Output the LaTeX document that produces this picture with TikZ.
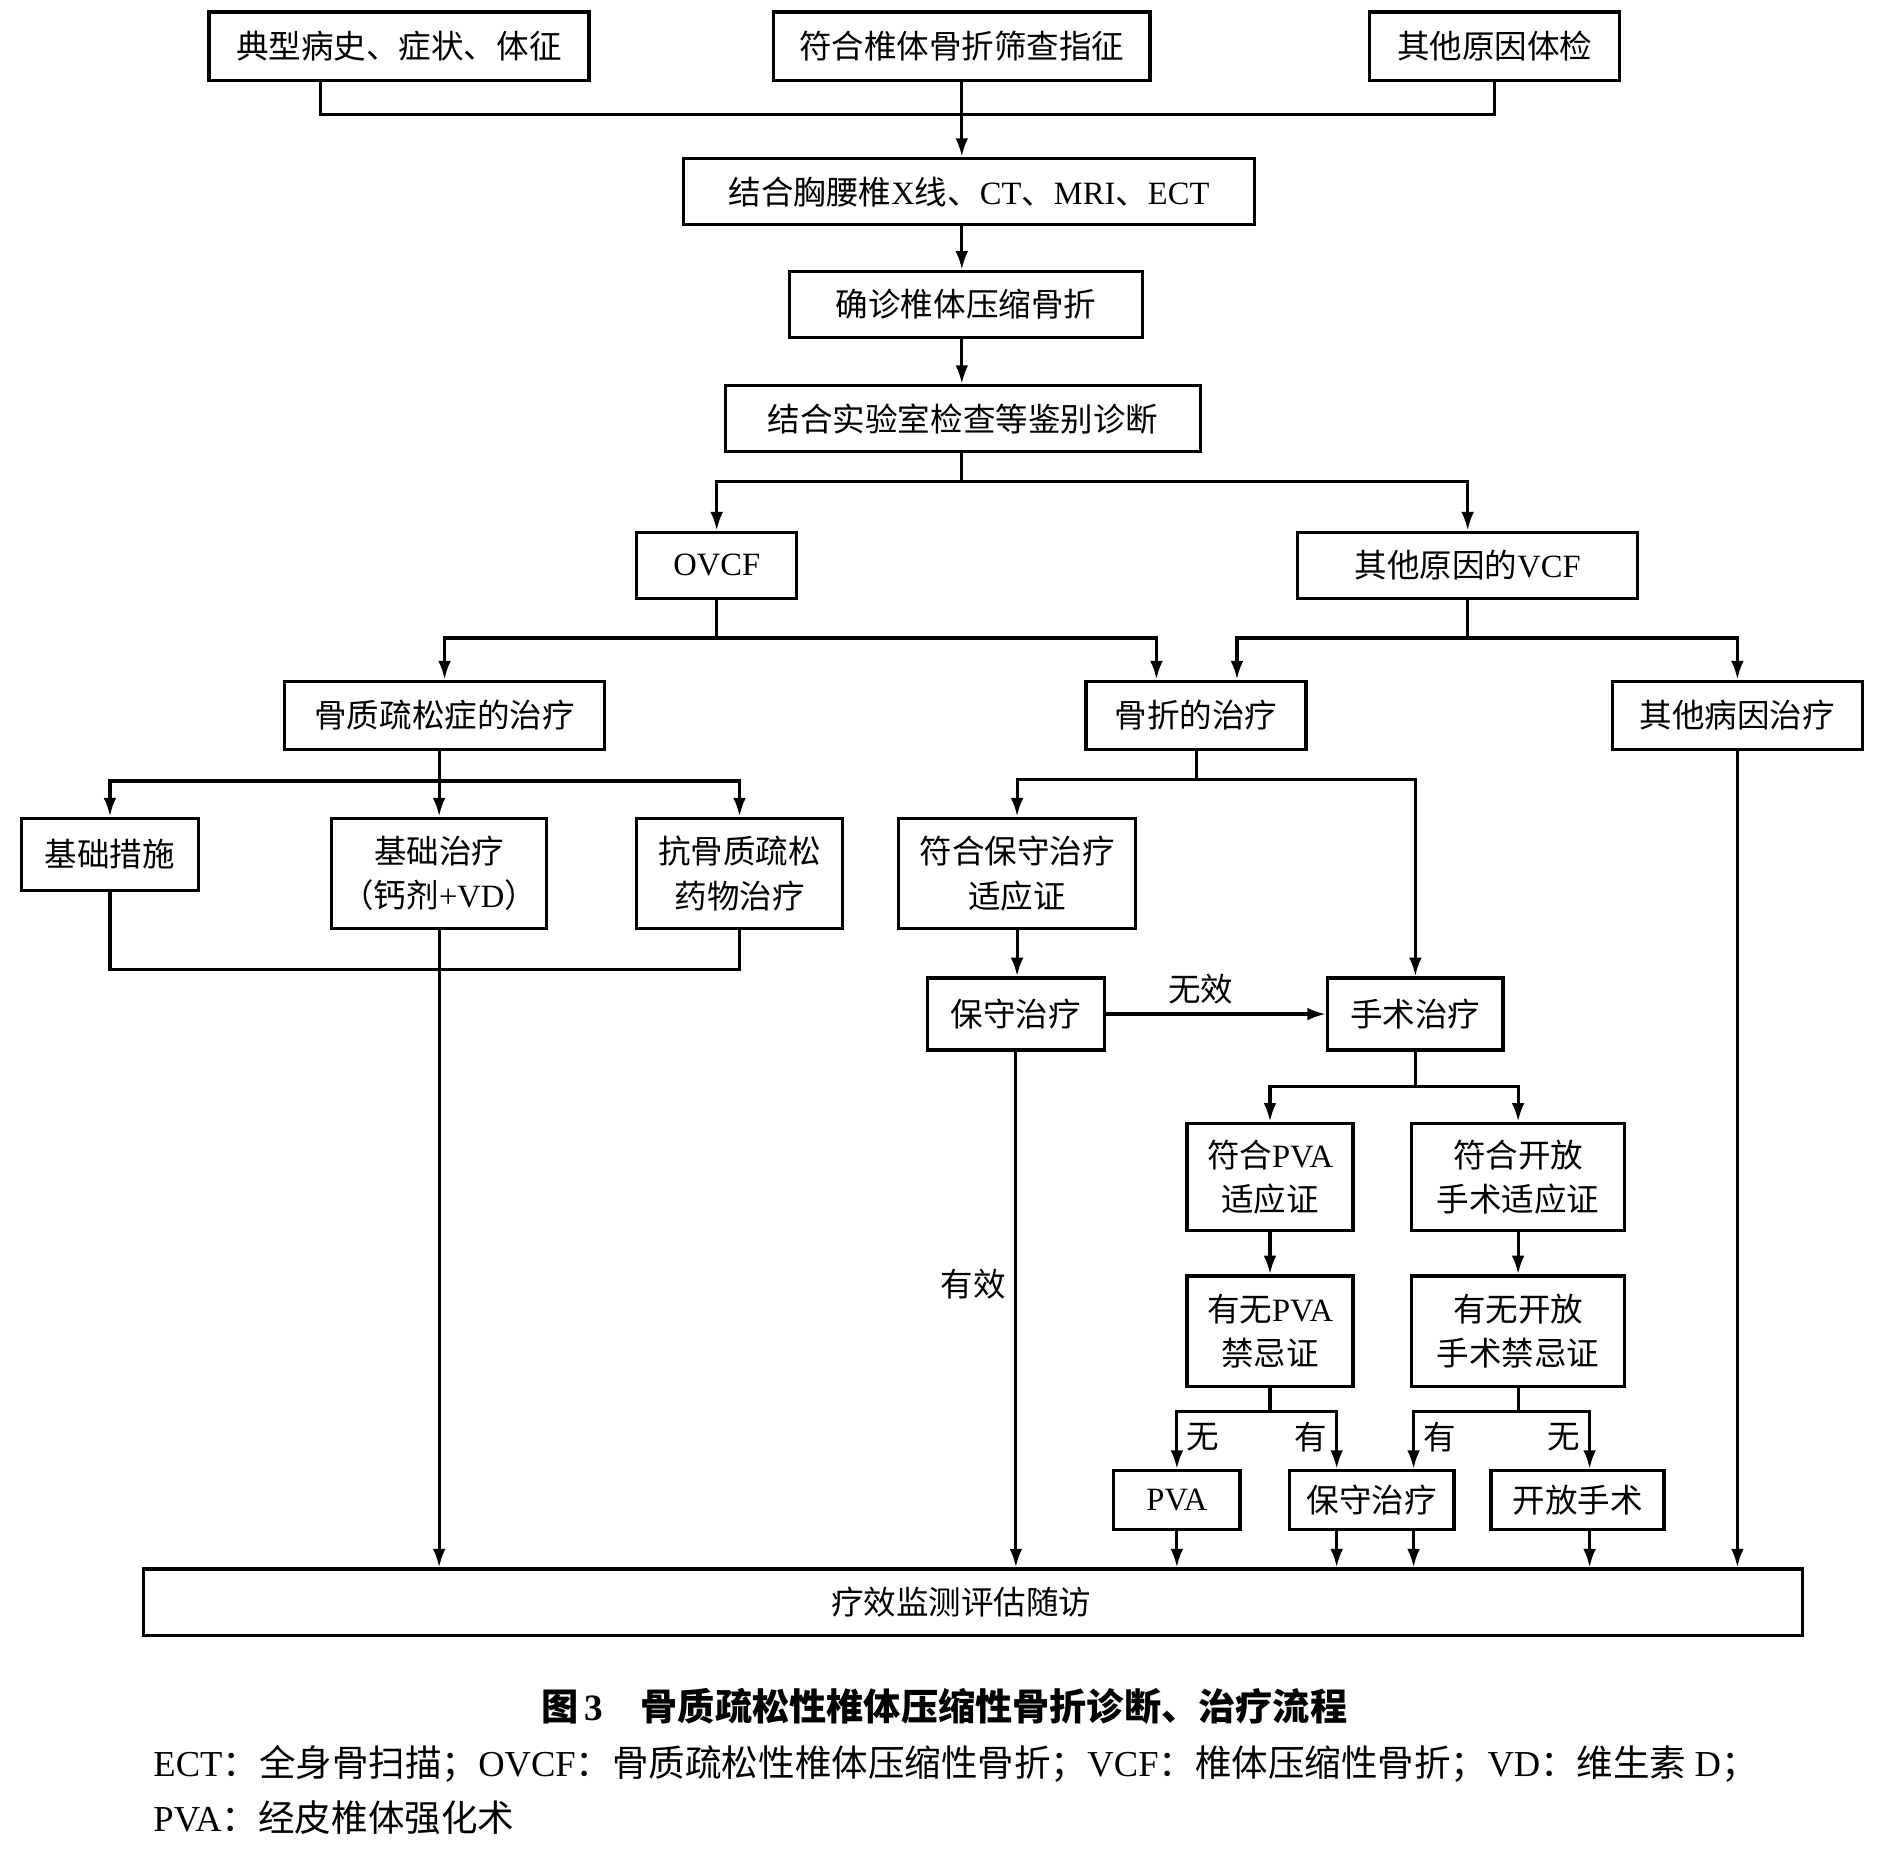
\documentclass[tikz,border=0pt]{standalone}
\usepackage{fontspec}
\setmainfont{Liberation Serif}
\newfontfamily\cjk{Noto Sans CJK SC}
\newcommand\lat[1]{{\rmfamily #1}}
\usetikzlibrary{arrows.meta,calc}

\begin{document}
\begin{tikzpicture}[
  x=0.01cm,
  y=-0.01cm,
  box/.style={draw,line width=0.8pt,align=center,inner sep=0pt,
    font=\cjk\fontsize{7.7}{10.5}\selectfont},
  link/.style={line width=0.75pt},
  arr/.style={link,-{Latex[length=4.4pt,width=3pt]}},
  lbl/.style={font=\cjk\fontsize{7.7}{9}\selectfont,inner sep=2pt}
]
  \useasboundingbox (0,0) rectangle (1568,1540);

  \node[box,minimum width=3.16cm,minimum height=0.57cm] (hist) at (332,38.5) {典型病史、症状、体征};
  \node[box,minimum width=3.13cm,minimum height=0.57cm] (screen) at (800.5,38.5) {符合椎体骨折筛查指征};
  \node[box,minimum width=2.08cm,minimum height=0.57cm] (other) at (1244,38.5) {其他原因体检};
  \node[box,minimum width=4.75cm,minimum height=0.55cm] (imaging) at (806.5,159.5) {结合胸腰椎\lat{X}线、\lat{CT}、\lat{MRI}、\lat{ECT}};
  \node[box,minimum width=2.94cm,minimum height=0.55cm] (confirm) at (804,253.5) {确诊椎体压缩骨折};
  \node[box,minimum width=3.95cm,minimum height=0.55cm] (diff) at (801.5,348.5) {结合实验室检查等鉴别诊断};
  \node[box,minimum width=1.33cm,minimum height=0.55cm] (ovcf) at (596.5,470.5) {\lat{OVCF}};
  \node[box,minimum width=2.83cm,minimum height=0.55cm] (othervcf) at (1221.5,470.5) {其他原因的\lat{VCF}};
  \node[box,minimum width=2.66cm,minimum height=0.57cm] (osteo) at (370,595.5) {骨质疏松症的治疗};
  \node[box,minimum width=1.83cm,minimum height=0.57cm] (fxtreat) at (995.5,595.5) {骨折的治疗};
  \node[box,minimum width=2.08cm,minimum height=0.57cm] (othercause) at (1446,595.5) {其他病因治疗};
  \node[box,minimum width=1.47cm,minimum height=0.60cm] (basic) at (91.5,711) {基础措施};
  \node[box,minimum width=1.79cm,minimum height=0.92cm] (basictx) at (365.5,727) {基础治疗\\（钙剂\lat{+VD}）};
  \node[box,minimum width=1.71cm,minimum height=0.92cm] (antiop) at (615.5,727) {抗骨质疏松\\药物治疗};
  \node[box,minimum width=1.97cm,minimum height=0.92cm] (conind) at (846.5,727) {符合保守治疗\\适应证};
  \node[box,minimum width=1.47cm,minimum height=0.60cm] (conserv) at (845.5,844) {保守治疗};
  \node[box,minimum width=1.46cm,minimum height=0.60cm] (surgery) at (1178,844) {手术治疗};
  \node[box,minimum width=1.38cm,minimum height=0.89cm] (pvaind) at (1057,979.5) {符合\lat{PVA}\\适应证};
  \node[box,minimum width=1.77cm,minimum height=0.89cm] (openind) at (1263.5,979.5) {符合开放\\手术适应证};
  \node[box,minimum width=1.38cm,minimum height=0.92cm] (pvacontra) at (1057,1108) {有无\lat{PVA}\\禁忌证};
  \node[box,minimum width=1.77cm,minimum height=0.92cm] (opencontra) at (1263.5,1108) {有无开放\\手术禁忌证};
  \node[box,minimum width=1.05cm,minimum height=0.49cm] (pva) at (979.5,1248.5) {\lat{PVA}};
  \node[box,minimum width=1.37cm,minimum height=0.49cm] (conserv2) at (1141.5,1248.5) {保守治疗};
  \node[box,minimum width=1.44cm,minimum height=0.49cm] (openop) at (1313,1248.5) {开放手术};
  \node[box,minimum width=13.8cm,minimum height=0.55cm] (final) at (810,1333.5) {疗效监测评估随访\hspace{0.2cm}};

  \node[font=\cjk\fontsize{8.8}{10}\selectfont\bfseries] (title) at (786,1420) {图\,\lat{\bfseries 3}\quad 骨质疏松性椎体压缩性骨折诊断、治疗流程};
  \node[font=\cjk\fontsize{8.65}{10}\selectfont,anchor=west,inner sep=0pt] (note1) at (127,1468) {\lat{ECT}：全身骨扫描；\lat{OVCF}：骨质疏松性椎体压缩性骨折；\lat{VCF}：椎体压缩性骨折；\lat{VD}：维生素 \lat{D}；};
  \node[font=\cjk\fontsize{8.65}{10}\selectfont,anchor=west,inner sep=0pt] (note2) at (127,1513) {\lat{PVA}：经皮椎体强化术};

  \coordinate (histtap) at ($(hist.south)+(-65,0)$);
  \coordinate (bus1) at (800.5,95);
  \draw[link] (histtap) |- (bus1) -| (other.south);
  \draw[arr] (screen.south) -- (screen.south |- imaging.north);
  \draw[arr] (imaging.south -| screen) -- (confirm.north -| screen);
  \draw[arr] (confirm.south -| screen) -- (diff.north -| screen);

  \coordinate (bus2) at (800.5,401);
  \draw[link] (diff.south -| screen) -- (bus2);
  \draw[arr] (bus2) -| (ovcf);
  \draw[arr] (bus2) -| (othervcf);

  \coordinate (fxleft) at ($(fxtreat.north)+(-33,0)$);
  \coordinate (fxright) at ($(fxtreat.north)+(34,0)$);
  \draw[link] (ovcf.south) -- (ovcf.south |- 0,531);
  \draw[arr] (ovcf.south |- 0,531) -| (osteo);
  \draw[arr] (ovcf.south |- 0,531) -| (fxleft);
  \draw[link] (othervcf.south) -- (othervcf.south |- 0,531);
  \draw[arr] (othervcf.south |- 0,531) -| (fxright);
  \draw[arr] (othervcf.south |- 0,531) -| (othercause);

  \draw[arr] (osteo.south -| basictx) -- (basictx);
  \draw[arr] (basictx |- 0,650) -| (basic);
  \draw[arr] (basictx |- 0,650) -| (antiop);
  \draw[link] (basic.south) |- (basictx |- 0,807) -| (antiop.south);
  \draw[arr] (basictx.south) -- (basictx.south |- final.north);

  \draw[link] (fxtreat.south) -- (fxtreat.south |- 0,649);
  \draw[arr] (fxtreat.south |- 0,649) -| (conind);
  \draw[arr] (fxtreat.south |- 0,649) -| (surgery);
  \draw[arr] (conind.south) -- (conind.south |- conserv.north);
  \draw[arr] (conserv) -- node[lbl,above,pos=0.43] (invalid) {无效} (surgery);
  \draw[arr] (conserv.south) -- node[lbl,left,pos=0.45] (valid) {有效} (conserv.south |- final.north);

  \draw[link] (surgery.south) -- (surgery.south |- 0,904);
  \draw[arr] (surgery.south |- 0,904) -| (pvaind);
  \draw[arr] (surgery.south |- 0,904) -| (openind);
  \draw[arr] (pvaind) -- (pvacontra);
  \draw[arr] (openind) -- (opencontra);

  \coordinate (c2left) at ($(conserv2.north)+(-29,0)$);
  \coordinate (c2right) at ($(conserv2.north)+(35,0)$);
  \coordinate (opentap) at ($(openop.north)+(10,0)$);
  \draw[link] (pvacontra.south) -- (pvacontra.south |- 0,1175);
  \draw[arr] (pvacontra.south |- 0,1175) -| node[lbl,right,pos=0.72] (noA) {无} (pva);
  \draw[arr] (pvacontra.south |- 0,1175) -| node[lbl,left,pos=0.72] (yesA) {有} (c2left);
  \draw[link] (opencontra.south) -- (opencontra.south |- 0,1175);
  \draw[arr] (opencontra.south |- 0,1175) -| node[lbl,right,pos=0.72] (yesB) {有} (c2right);
  \draw[arr] (opencontra.south |- 0,1175) -| node[lbl,left,pos=0.72] (noB) {无} (opentap);

  \draw[arr] (pva.south) -- (pva.south |- final.north);
  \draw[arr] (c2left |- conserv2.south) -- (c2left |- final.north);
  \draw[arr] (c2right |- conserv2.south) -- (c2right |- final.north);
  \draw[arr] (opentap |- openop.south) -- (opentap |- final.north);
  \draw[arr] (othercause.south) -- (othercause.south |- final.north);
\end{tikzpicture}
\end{document}
